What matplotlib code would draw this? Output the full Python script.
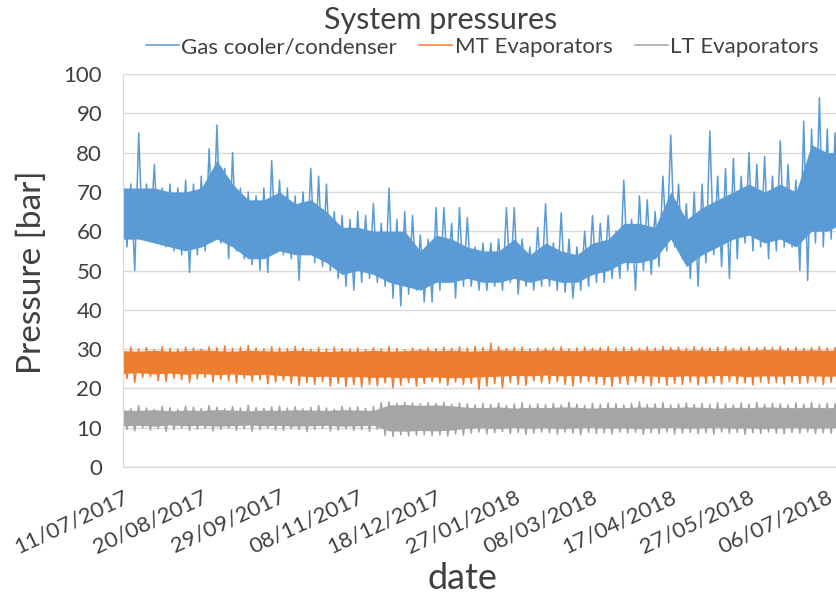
import matplotlib
matplotlib.use("Agg")
import matplotlib.pyplot as plt
import matplotlib.dates as mdates
import numpy as np
import pandas as pd

# readings from the picture, days counted from 11/07/2017
start = pd.Timestamp("2017-07-11")
days = np.arange(0, 365, 4)        # spike readings (extreme top = hi, extreme bottom = lo)
core_days = np.arange(0, 369, 8)   # edges of the dense, solid part of each band

gas_hi = [73, 72, 85, 72, 77, 71, 72, 71, 73, 72,
          74, 81, 87, 76, 80, 71, 70, 69, 71, 78,
          73, 71, 69, 70, 76, 74, 72, 65, 64, 63,
          65, 64, 67, 62, 71, 63, 65, 64, 59, 58,
          66, 66, 62, 66,
          63.5, 56, 57, 57, 58, 66, 66, 58, 56, 61,
          67, 57, 64.7, 58, 56, 60, 64, 62, 64, 60,
          73, 63, 69, 68, 65, 74, 84.5, 72, 67, 70,
          72, 85.5, 74, 76, 78.5, 74, 80, 77, 79, 74,
          83, 77, 73, 88, 86, 94, 86, 85]
gas_lo = [56, 50, 58, 59, 57, 56, 55, 54, 49.5, 54,
          55, 58, 57, 53, 55, 53, 51.5, 50, 49.5, 55,
          54, 53, 47.5, 54, 52, 51, 50, 48, 46, 45,
          47, 48, 47, 46, 43, 41, 44, 45, 42, 42,
          45, 49, 43, 46,
          46, 45, 45, 46, 45, 47, 44, 46, 45, 46,
          46, 45, 44.5, 43, 45, 46, 47, 47, 48, 48,
          50, 45, 50, 49, 51, 55, 56, 53, 48, 46,
          52, 54, 51, 48, 53, 57, 55, 56, 53, 55,
          56, 56, 50, 47.5, 57, 56, 58, 60]
gas_top = [71, 71, 71, 70, 70, 71, 78, 72, 68, 68,
           70, 67, 68, 65, 61, 61, 60, 60, 60, 55,
           59, 58, 56, 55, 55, 58, 54, 57, 55, 54,
           57, 58, 62, 62, 61, 70, 63, 66, 68, 70,
           72, 70, 72, 70, 82, 80, 80]
gas_bot = [58, 58, 57, 56, 55, 56, 58, 56, 53, 53,
           55, 54, 54, 52, 49, 50, 49, 47, 46, 45,
           47, 47, 48, 47, 47, 48, 47, 48, 47, 47,
           49, 50, 52, 52, 53, 58, 51, 54, 56, 58,
           59, 57, 58, 56, 60, 60, 62]

mt_hi = [30.2, 30.5, 30, 30.4, 29.8, 30.6, 30.2, 30, 30.5, 30.3,
         30, 30.6, 30.4, 30.8, 30.2, 30.5, 30.9, 30.3, 30.1, 30.6,
         30.4, 30.2, 30.7, 30.3, 30, 30.4, 30.1, 30.5, 30.2, 30,
         30.3, 29.9, 30.4, 30.1, 30.6, 30.2, 29.8, 30.3, 30, 30.4,
         30.1, 30.5, 30.2, 30.6,
         30.3, 30.7, 30.4, 31.5, 30.6, 30.2, 30.4, 30.5, 30.1, 30.3,
         30.2, 30.4, 30.6, 30.1, 30.3, 30.5, 30.2, 30.4, 30.6, 30.3,
         30.5, 30.4, 30.2, 30.6, 30.3, 30.7, 30.4, 30.5, 30.2, 30.6,
         30.4, 30.3, 30.5, 30.7, 30.2, 30.4, 30.6, 30.3, 30.5, 30.4,
         30.6, 30.3, 30.5, 30.2, 30.4, 30.6, 30.3, 30.4]
mt_lo = [22.5, 21.5, 22.8, 23, 22, 21.8, 22.6, 22.2, 21.5, 22.4,
         22.8, 21.6, 22.3, 22, 21.4, 22.5, 21.8, 22.2, 21.2, 21.6,
         22, 21.3, 20.8, 21.5, 21, 21.8, 20.6, 21.2, 20.5, 20.9,
         20.4, 21, 20.7, 21.4, 20.2, 20.8, 21.5, 20.6, 21.2, 21.8,
         21.4, 20.8, 21.6, 21,
         21.3, 19.8, 20.6, 21.2, 20.2, 21.5, 21, 20.8, 21.9, 21.4,
         21.2, 21.7, 21, 20.6, 21.5, 21.8, 21.1, 20.9, 20.5, 21.3,
         21, 21.6, 21.3, 20.7, 21.4, 20.8, 21.2, 21, 21.6, 20.9,
         21.3, 21.5, 21.1, 21.7, 21.2, 21.4, 20.9, 21.6, 21.3, 21.5,
         21.1, 21.6, 21.2, 21.4, 21.7, 21, 21.5, 21.3]
mt_top = [29.6, 29.5, 29.7, 29.5, 29.6, 29.8, 29.6, 29.5, 29.7, 29.6,
          29.5, 29.7, 29.6, 29.4, 29.6, 29.5, 29.7, 29.5, 29.6, 29.8,
          29.6, 29.7, 29.5, 29.6, 29.8, 29.7, 29.6, 29.8, 29.7, 29.6,
          29.8, 29.7, 29.6, 29.8, 29.7, 29.9, 29.7, 29.8, 29.6, 29.8,
          29.7, 29.9, 29.8, 29.7, 29.8, 29.7, 29.8]
mt_bot = [23.8, 24.0, 23.7, 23.9, 23.6, 23.8, 23.5, 23.7, 23.4, 23.6,
          23.3, 23.2, 23.0, 23.1, 22.9, 23.0, 22.8, 22.9, 22.7, 22.8,
          22.9, 22.7, 22.8, 23.0, 23.1, 23.3, 23.2, 23.4, 23.2, 23.3,
          23.1, 23.0, 23.2, 23.3, 23.1, 23.0, 23.2, 23.1, 23.3, 23.2,
          23.0, 23.2, 23.1, 23.3, 23.2, 23.1, 23.2]

lt_hi = [15.3, 14.8, 15.6, 15, 14.6, 15.4, 15.1, 14.7, 15.5, 15.2,
         14.9, 15.6, 15.2, 14.8, 15.4, 15, 15.7, 15.1, 14.9, 15.3,
         15.5, 15, 15.3, 14.8, 15.2, 15.6, 15, 14.7, 15.4, 15.1,
         15.3, 14.9, 15.4, 16.4, 16.6, 16.2, 16.5, 16.3, 16.1, 16.4,
         16.2, 16.5, 16, 16.3,
         16.1, 15.8, 16.2, 15.9, 16.3, 15.7, 16, 16.4, 15.8, 16.1,
         15.9, 16.2, 15.8, 16.5, 16, 15.7, 16.2, 15.9, 16.3, 16.1,
         15.8, 16.2, 16.6, 15.9, 16.1, 16.4, 15.8, 16, 16.3, 15.9,
         16.2, 15.9, 16.4, 16.1, 15.8, 16.3, 16, 16.5, 15.9, 16.2,
         16.1, 15.8, 16.3, 16, 16.4, 15.9, 16.2, 16.1]
lt_lo = [9.6, 9.2, 10, 9.4, 9.8, 9.1, 9.5, 9.9, 9.3, 9.6,
         9.8, 9.2, 9.6, 9.9, 9.3, 9.7, 9.1, 9.5, 9.8, 9.4,
         9.3, 9.7, 9.5, 9, 9.6, 9.8, 9.2, 9.4, 9.7, 9.3,
         9.5, 9.1, 9.6, 8, 7.8, 8.2, 7.9, 8.1, 8.3, 8,
         8.2, 7.9, 8.4, 8.1,
         8.6, 8.9, 8.4, 8.7, 9, 8.5, 8.8, 8.3, 8.6, 8.9,
         8.7, 8.4, 8.9, 8.6, 8.2, 8.8, 8.5, 8.7, 8.4, 8.9,
         8.6, 8.8, 8.3, 8.7, 8.5, 8.9, 8.4, 8.6, 8.8, 8.5,
         8.7, 8.4, 8.9, 8.6, 8.8, 8.3, 8.7, 8.5, 8.9, 8.6,
         8.4, 8.8, 8.6, 8.9, 8.5, 8.7, 8.6, 8.7]
lt_top = [14.5, 14.4, 14.6, 14.3, 14.5, 14.4, 14.6, 14.5, 14.3, 14.5,
          14.4, 14.6, 14.5, 14.4, 14.6, 14.5, 14.4, 15.8, 15.9, 15.7,
          15.8, 15.6, 15.2, 15.1, 15.3, 15.0, 15.2, 15.1, 15.3, 15.2,
          15.0, 15.2, 15.1, 15.3, 15.2, 15.1, 15.3, 15.2, 15.0, 15.2,
          15.1, 15.3, 15.2, 15.1, 15.2, 15.1, 15.2]
lt_bot = [10.5, 10.6, 10.4, 10.7, 10.5, 10.6, 10.4, 10.5, 10.7, 10.5,
          10.6, 10.4, 10.5, 10.6, 10.4, 10.5, 10.6, 9.2, 9.1, 9.3,
          9.2, 9.4, 9.9, 10.0, 9.8, 10.1, 9.9, 10.0, 9.8, 10.0,
          10.1, 9.9, 10.0, 9.8, 10.0, 10.1, 9.9, 10.0, 10.1, 9.9,
          10.0, 9.8, 10.0, 10.1, 9.9, 10.0, 10.0]

names = ["Gas cooler/condenser", "MT Evaporators", "LT Evaporators"]
colors = ["#5B9BD5", "#ED7D31", "#A5A5A5"]
tick_dates = pd.date_range("2017-07-11", periods=10, freq="40D")
end_date = pd.Timestamp("2018-07-11")

plt.rcParams["font.family"] = ["Lato", "DejaVu Sans"]
txt = "#404040"


def to_dates(d):
    return [start + pd.Timedelta(days=float(x)) for x in d]


def zigzag(hi, lo):
    # alternate the top / bottom readings to give the noisy edges
    t = []
    v = []
    for d, h, l in zip(days, hi, lo):
        t += [d, d + 2]
        v += [h, l]
    return to_dates(t), v


fig = plt.figure(figsize=(8.37, 5.96), dpi=100)
ax = fig.add_axes([0.147, 0.2164, 0.853, 0.6594])

series = [(gas_hi, gas_lo, gas_top, gas_bot),
          (mt_hi, mt_lo, mt_top, mt_bot),
          (lt_hi, lt_lo, lt_top, lt_bot)]
for (hi, lo, top, bot), name, c in zip(series, names, colors):
    ax.fill_between(to_dates(core_days), bot, top, color=c, lw=0)
    t, v = zigzag(hi, lo)
    ax.plot(t, v, color=c, lw=1.1, label=name)

ax.set_ylim(0, 100)
ax.set_yticks(range(0, 101, 10))
ax.set_xlim(start, end_date)
ax.set_xticks(tick_dates)
ax.xaxis.set_major_formatter(mdates.DateFormatter("%d/%m/%Y"))
ax.grid(axis="y", color="#D9D9D9", lw=1)
ax.set_axisbelow(True)
for s in ["top", "right"]:
    ax.spines[s].set_visible(False)
for s in ["left", "bottom"]:
    ax.spines[s].set_color("#D9D9D9")
ax.tick_params(length=0, labelsize=16, colors=txt)
ax.tick_params(axis="y", pad=15)
ax.tick_params(axis="x", pad=14)
plt.setp(ax.get_xticklabels(), rotation=25, ha="right", rotation_mode="anchor")

fig.text(0.526, 0.966, "System pressures", ha="center", va="center", fontsize=22, color=txt)
fig.text(0.038, 0.544, "Pressure [bar]", rotation=90, ha="center", va="center", fontsize=24, color=txt)
fig.text(0.552, 0.03, "date", ha="center", va="center", fontsize=26, color=txt)
fig.legend(loc="center", bbox_to_anchor=(0.576, 0.921), ncol=3, frameon=False,
           fontsize=16, handlelength=1.5, handletextpad=0.1, columnspacing=1.0,
           labelcolor=txt)

fig.savefig("out.png", dpi=100)
